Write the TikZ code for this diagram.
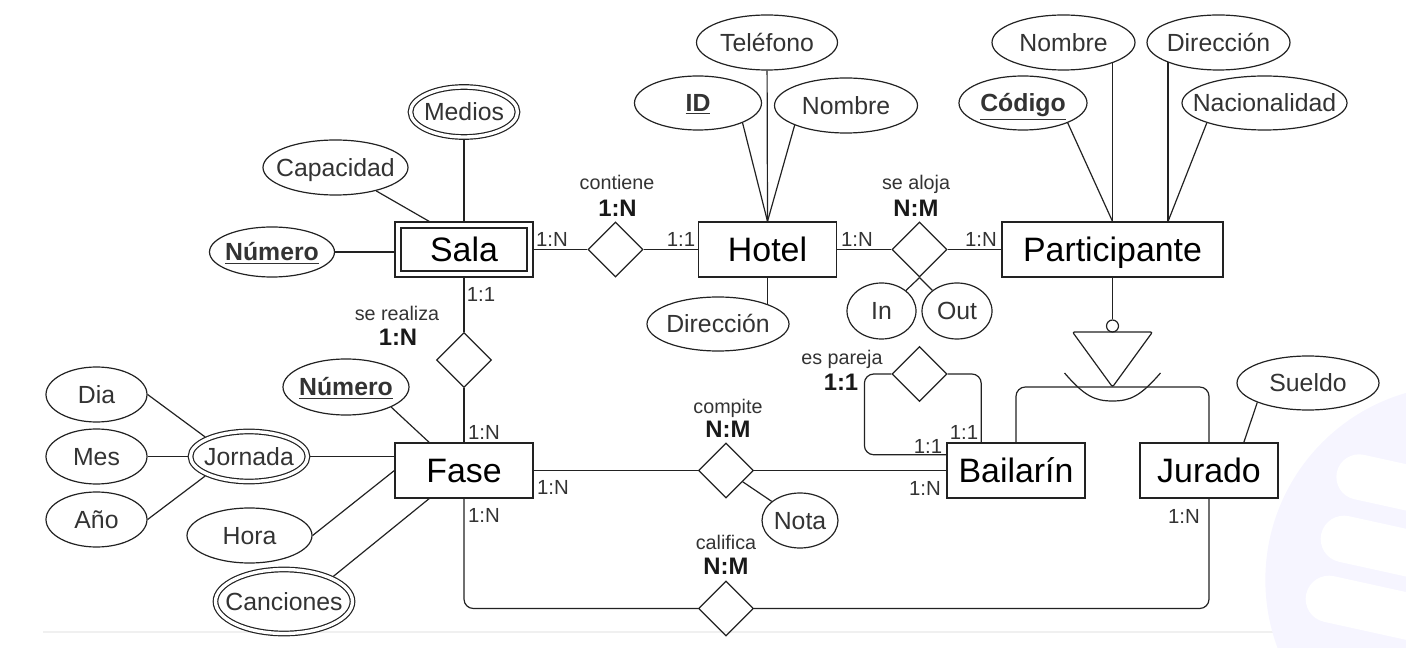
\documentclass[tikz,border=0pt]{standalone}
\usepackage{fontspec}
\setmainfont{Liberation Sans}
\usetikzlibrary{shapes.geometric,calc}
\definecolor{erline}{RGB}{34,34,34}
\definecolor{ertext}{RGB}{51,51,51}
\definecolor{marca}{RGB}{246,245,255}
\tikzset{
	entidad/.style={draw=erline,rectangle,line width=0.9pt,inner sep=0pt,minimum width=103.5pt,minimum height=41.25pt,text=black,font=\fontsize{25.4}{29}\selectfont,text height=18.2pt,text depth=0pt},
	debil/.style={entidad,double,double distance=3.6pt,outer sep=2.7pt,minimum width=99pt,minimum height=36.75pt},
	atrib/.style={draw=erline,ellipse,line width=0.9pt,inner ysep=0pt,inner xsep=-12pt,minimum width=106.5pt,minimum height=41.25pt,text=ertext,font=\fontsize{18.6}{22}\selectfont,text height=13.3pt,text depth=0pt},
	clave/.style={atrib,font=\fontsize{18.6}{22}\selectfont\bfseries},
	multi/.style={atrib,double,double distance=2.5pt,outer sep=2.15pt},
	relacion/.style={draw=erline,diamond,line width=0.9pt,inner sep=0pt,minimum width=41.25pt,minimum height=41.25pt},
	card/.style={inner sep=0pt,text=ertext,font=\fontsize{15.3}{18}\selectfont,text height=11pt,text depth=0pt},
	nombre/.style={inner sep=0pt,text=ertext,font=\fontsize{14.8}{17}\selectfont,text height=10.6pt,text depth=0pt},
	tipo/.style={inner sep=0pt,text=black!90,font=\fontsize{17.9}{21}\selectfont\bfseries,text height=12.8pt,text depth=0pt},
}
\begin{document}
\begin{tikzpicture}[x=0.75pt,y=-0.75pt,line width=0.9pt,color=erline]
	\useasboundingbox (0,0) rectangle (1406,648);
	\draw[black!6,line width=0.8pt] (43,632) -- (1406,632);
	\fill[marca] (1460,580) circle (146pt);
	\draw[white,line width=34pt,line cap=round] (1359,477) -- ++(150,33);
	\draw[white,line width=35pt,line cap=round] (1344,539) -- ++(150,33);
	\draw[white,line width=35pt,line cap=round] (1329,599) -- ++(150,33);

	\node[debil] (sala) at (464,249.5) {Sala};
	\node[entidad] (hotel) at (767.5,249.5) {Hotel};
	\node[entidad,minimum width=165.75pt] (part) at (1112.5,249.5) {Participante};
	\node[entidad] (fase) at (464,470.5) {Fase};
	\node[entidad] (bail) at (1016,470.5) {Bailarín};
	\node[entidad] (jur) at (1209,470.5) {Jurado};

	\node[relacion] (contiene) at (615.5,249.5) {};
	\node[relacion] (aloja) at (919.5,249.5) {};
	\node[relacion] (realiza) at (464,360) {};
	\node[relacion] (pareja) at (919.5,374) {};
	\node[relacion] (compite) at (726,470.5) {};
	\node[relacion] (califica) at (726,608.5) {};

	\node[clave,minimum width=93.75pt,minimum height=37.5pt] (numS) at (272,252) {\underline{Número}};
	\node[atrib,minimum width=108.75pt] (cap) at (335.5,167.5) {Capacidad};
	\node[multi,minimum width=80.25pt,minimum height=37.5pt] (medios) at (464,112) {Medios};
	\node[clave,minimum width=95.25pt,minimum height=40.5pt] (idH) at (698,103) {\underline{ID}};
	\node[atrib,minimum width=105.75pt] (tel) at (767,42.5) {Teléfono};
	\node[atrib,minimum width=107.25pt] (nomH) at (846,105.5) {Nombre};
	\node[atrib,minimum height=40.5pt] (dirH) at (718,324) {Dirección};
	\node[clave,minimum width=96pt,minimum height=40.5pt] (cod) at (1023,103) {\underline{Código}};
	\node[atrib,minimum width=107.25pt] (nomP) at (1063.5,42.5) {Nombre};
	\node[atrib,minimum width=107.25pt] (dirP) at (1218.5,42.5) {Dirección};
	\node[atrib,minimum width=123.75pt,minimum height=40.5pt] (nac) at (1264.5,103) {Nacionalidad};
	\node[atrib,minimum width=51.75pt,minimum height=42pt] (in) at (881.5,311) {In};
	\node[atrib,minimum width=52.5pt,minimum height=42pt] (out) at (957,311) {Out};
	\node[atrib,minimum height=40.5pt] (sueldo) at (1308,383) {Sueldo};
	\node[atrib,minimum width=57pt] (nota) at (800,520.5) {Nota};
	\node[clave,minimum width=94.5pt,minimum height=42pt] (numF) at (346,387) {\underline{Número}};
	\node[multi,minimum width=87.75pt,minimum height=37.5pt] (jornada) at (249,456.5) {Jornada};
	\node[atrib,minimum width=75.75pt] (dia) at (96.5,394.5) {Dia};
	\node[atrib,minimum width=75.75pt] (mes) at (96.5,456.5) {Mes};
	\node[atrib,minimum width=75.75pt] (anio) at (96.5,519.5) {Año};
	\node[atrib,minimum width=93.75pt] (hora) at (249.5,535.5) {Hora};
	\node[multi,minimum width=102.75pt,minimum height=48pt] (canc) at (284,601.5) {Canciones};

	\draw (numS) -- (numS -| sala.west);
	\draw (cap) -- ($(sala.north west)!0.25!(sala.north east)$);
	\draw (medios) -- (sala);
	\draw (sala) -- (contiene) -- (hotel);
	\draw (tel) -- (hotel.north);
	\draw (idH.-24) -- (hotel.north);
	\draw (nomH.-159) -- (hotel.north);
	\draw (hotel.south) -- (hotel.south |- dirH.21);
	\draw (hotel) -- (aloja) -- (part);
	\draw (in.40) -- (aloja.south);
	\draw (out.140) -- (aloja.south);
	\coordinate (partR) at ($(part.north west)!0.75!(part.north east)$);
	\draw (cod.-24) -- (part.north);
	\draw (part.north) -- (part.north |- nomP.-22);
	\draw (partR) -- (partR |- dirP.-159);
	\draw (nac.-161) -- (partR);

	\node[draw,circle,inner sep=0pt,minimum size=9pt,fill=white] (isaC) at (1112.5,326) {};
	\coordinate (isaA) at (1112.5,387);
	\draw (part.south) -- (isaC);
	\draw[rounded corners=1.5pt] (1072.5,332) -- (1152.5,332) -- (isaA) -- cycle;
	\draw (1064.5,373) .. controls (1084.5,396) and (1094.5,401) .. (1112.5,401) .. controls (1130.5,401) and (1140.5,396) .. (1160.5,373);
	\draw[rounded corners=7pt] (bail.north) |- (isaA) -| (jur.north);
	\draw (sueldo.-159) -- ($(jur.north west)!0.75!(jur.north east)$);

	\draw[rounded corners=7pt] (pareja.west) -- ++(-27,0) |- ($(bail.north west)!0.22!(bail.south west)$);
	\draw[rounded corners=7pt] (pareja.east) -| ($(bail.north west)!0.25!(bail.north east)$);
	\draw (sala) -- (realiza) -- (fase);
	\draw (fase) -- (compite) -- (bail);
	\draw (compite) -- (nota);
	\draw[rounded corners=7pt] (fase.south) |- (califica.west);
	\draw[rounded corners=7pt] (califica.east) -| (jur.south);

	\draw (numF.-24) -- ($(fase.north west)!0.25!(fase.north east)$);
	\draw (jornada) -- (jornada -| fase.west);
	\draw (dia.east) -- (jornada.156);
	\draw (mes) -- (jornada);
	\draw (anio.east) -- (jornada.204);
	\draw (hora.east) -- (fase.west);
	\draw (canc.27) -- ($(fase.south west)!0.25!(fase.south east)$);

	\node[card] (c1) at (552,239) {1:N};
	\node[card] (c2) at (681,239) {1:1};
	\node[card] (c3) at (857,239) {1:N};
	\node[card] (c4) at (981,239) {1:N};
	\node[card] (c5) at (481,294) {1:1};
	\node[card] (c6) at (484,432) {1:N};
	\node[card] (c7) at (553,487) {1:N};
	\node[card] (c8) at (484,515) {1:N};
	\node[card] (c9) at (925,488) {1:N};
	\node[card] (c10) at (928,446) {1:1};
	\node[card] (c11) at (964,432) {1:1};
	\node[card] (c12) at (1184,516) {1:N};

	\node[nombre] (nContiene) at (617,182) {contiene};
	\node[tipo] (tContiene) at (617.5,208) {1:N};
	\node[nombre] (nAloja) at (916,182) {se aloja};
	\node[tipo] (tAloja) at (916,208) {N:M};
	\node[nombre] (nRealiza) at (397,313) {se realiza};
	\node[tipo] (tRealiza) at (398,337) {1:N};
	\node[nombre] (nPareja) at (842,357) {es pareja};
	\node[tipo] (tPareja) at (841,382) {1:1};
	\node[nombre] (nCompite) at (728,406) {compite};
	\node[tipo] (tCompite) at (728,429) {N:M};
	\node[nombre] (nCalifica) at (726,542.5) {califica};
	\node[tipo] (tCalifica) at (726,566) {N:M};
\end{tikzpicture}
\end{document}
